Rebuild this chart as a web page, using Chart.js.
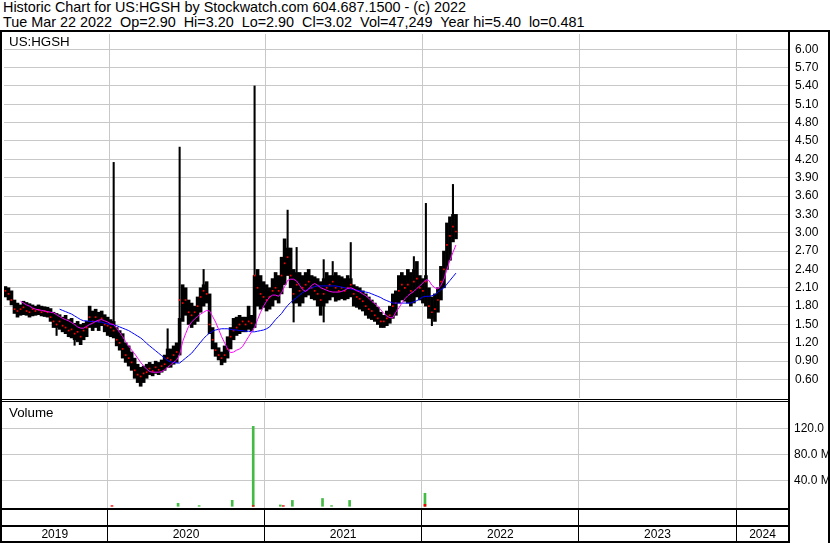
<!DOCTYPE html>
<html><head><meta charset="utf-8">
<script src="https://cdn.jsdelivr.net/npm/chart.js@4/dist/chart.umd.min.js"></script>
<style>
body{margin:0;background:#fff;width:830px;height:543px;overflow:hidden;position:relative;font-family:"Liberation Sans",Arial,sans-serif}
#t{position:absolute;left:3px;top:0;font-size:14.4px;line-height:15px;white-space:pre;color:#000}
canvas{position:absolute;left:0}
.lbl{position:absolute;font-size:13.33px;line-height:15px;color:#000}
</style></head>
<body>
<div id="t">Historic Chart for US:HGSH by Stockwatch.com 604.687.1500 - (c) 2022
Tue Mar 22 2022  Op=2.90  Hi=3.20  Lo=2.90  Cl=3.02  Vol=47,249  Year hi=5.40  lo=0.481</div>
<canvas id="pc" width="830" height="372" style="top:30px"></canvas>
<canvas id="vc" width="830" height="141" style="top:402px"></canvas>
<div class="lbl" style="left:9px;top:34px">US:HGSH</div>
<div class="lbl" style="left:9px;top:405px">Volume</div>
<script>
// ---- data (weekly, first week starting 2019-05-01) ----
const START = '2019-05-01';
const X_MIN = 2019.329, X_MAX = 2024.337;
const yearLines = [2020, 2021, 2022, 2023, 2024];
const yearNames = ['2019', '2020', '2021', '2022', '2023', '2024'];
const priceTicks = [0.60,0.90,1.20,1.50,1.80,2.10,2.40,2.70,3.00,3.30,3.60,3.90,4.20,4.50,4.80,5.10,5.40,5.70,6.00];
const volTicks = [40, 80, 120];

const high = [
2.12,2.10,2.05,1.90,1.85, 1.82,1.88,1.86,1.84,1.82, 1.80,1.82,1.80,1.79,1.78, 1.76,1.70,1.68,1.66,1.62,
1.65,1.58,1.60,1.52,1.55, 1.50,1.52,1.55,1.80,1.72, 1.75,1.70,1.72,1.66,1.62, 1.58,4.15,1.45,1.40,1.35,
1.20,1.15,1.05,0.95,0.85, 0.80,0.82,0.85,0.88,0.85, 0.90,0.88,0.92,1.00,1.43, 1.10,1.15,1.20,4.40,2.15,
2.10,1.90,1.85,1.80,1.95, 2.10,2.40,2.20,2.00,1.45, 1.20,1.12,1.05,1.15,1.30, 1.45,1.60,1.62,1.65,1.62,
1.62,1.80,1.65,5.40,2.40, 2.30,2.20,2.15,2.10,2.25, 2.35,2.30,2.60,2.90,3.37, 2.75,2.40,2.76,2.35,2.30,
2.35,2.40,2.30,2.28,2.25, 2.20,2.56,2.35,2.30,2.53, 2.35,2.30,2.28,2.25,2.30, 2.84,2.15,2.12,2.10,2.05,
2.00,1.95,1.90,1.85,1.78, 1.70,1.65,1.72,1.80,2.00, 2.05,2.30,2.35,2.30,2.40, 2.35,2.61,2.53,2.30,2.25,
3.48,2.10,1.95,2.00,2.10, 2.45,2.70,3.16,3.26,3.79, 3.30];
const low = [
1.95,1.90,1.82,1.68,1.62, 1.65,1.66,1.65,1.62,1.64, 1.65,1.66,1.64,1.63,1.62, 1.55,1.45,1.32,1.42,1.38,
1.35,1.30,1.28,1.16,1.22, 1.17,1.25,1.30,1.45,1.40, 1.45,1.40,1.48,1.38,1.32, 1.30,1.28,1.15,1.08,0.95,
0.88,0.82,0.75,0.62,0.55, 0.49,0.55,0.62,0.68,0.66, 0.70,0.68,0.72,0.75,0.80, 0.80,0.85,0.88,1.00,1.55,
1.65,1.50,1.45,1.50,1.55, 1.70,1.80,1.85,1.35,1.10, 0.98,0.92,0.84,0.88,0.95, 1.10,1.25,1.32,1.35,1.38,
1.38,1.42,1.40,1.45,1.80, 1.75,1.78,1.72,1.75,1.80, 1.90,1.85,2.00,2.15,2.30, 2.10,1.54,1.85,1.80,1.85,
1.95,1.98,1.92,1.90,1.80, 1.65,1.54,1.85,1.90,1.95, 1.88,1.90,1.92,1.90,1.92, 1.95,1.80,1.78,1.75,1.72,
1.65,1.60,1.58,1.55,1.50, 1.45,1.45,1.48,1.52,1.60, 1.65,1.85,1.90,1.88,1.85, 1.80,1.85,1.95,1.90,1.85,
1.80,1.60,1.48,1.55,1.70, 1.90,2.10,2.40,2.55,2.85, 2.90];
const close = [
2.05,2.00,1.90,1.75,1.72, 1.75,1.78,1.72,1.70,1.75, 1.72,1.74,1.70,1.72,1.70, 1.62,1.55,1.50,1.55,1.48,
1.45,1.40,1.42,1.35,1.38, 1.30,1.40,1.45,1.62,1.55, 1.62,1.55,1.60,1.50,1.48, 1.45,1.40,1.25,1.20,1.10,
1.00,0.95,0.88,0.75,0.68, 0.65,0.70,0.72,0.78,0.74, 0.80,0.76,0.82,0.85,0.95, 0.92,1.00,1.05,1.90,1.85,
1.90,1.70,1.65,1.70,1.80, 1.95,2.05,2.00,1.50,1.25, 1.08,1.00,0.95,1.00,1.10, 1.30,1.40,1.45,1.50,1.55,
1.50,1.55,1.52,2.30,2.10, 2.00,1.95,1.90,1.95,2.05, 2.10,2.05,2.30,2.50,2.60, 2.30,2.00,2.15,2.05,2.10,
2.15,2.20,2.10,2.05,2.00, 1.90,2.00,2.10,2.15,2.20, 2.10,2.05,2.10,2.05,2.10, 2.15,2.00,1.95,1.92,1.88,
1.80,1.75,1.72,1.65,1.60, 1.55,1.55,1.60,1.65,1.80, 1.85,2.05,2.15,2.10,2.15, 2.05,2.20,2.25,2.10,2.05,
2.20,1.80,1.70,1.75,1.90, 2.20,2.40,2.80,2.95,3.10, 3.02];
// weeks whose extreme came from a single-day spike, and where that week's normal range ended
const upSpikeWeek = [36, 54, 58, 66, 83, 94, 97, 106, 109, 115, 136, 140, 149];
const upSpikeFrom = [1.55, 1.10, 1.60, 2.15, 2.30, 2.75, 2.35, 2.25, 2.30, 2.25, 2.40, 2.30, 3.30];
const downSpikeWeek = [17, 23, 96, 106, 142];
const downSpikeFrom = [1.45, 1.25, 1.85, 1.80, 1.60];
const maShort = [
null,null,null,null,null, 1.88,1.85,1.82,1.80,1.77, 1.75,1.74,1.73,1.72,1.71, 1.70,1.69,1.66,1.63,1.60,
1.58,1.56,1.53,1.50,1.46, 1.44,1.44,1.47,1.50,1.52, 1.55,1.57,1.58,1.56,1.54, 1.51,1.50,1.44,1.37,1.30,
1.22,1.15,1.08,1.02,0.95, 0.88,0.82,0.77,0.73,0.72, 0.72,0.72,0.73,0.76,0.80, 0.84,0.88,0.92,1.00,1.22,
1.35,1.47,1.54,1.59,1.63, 1.67,1.70,1.73,1.72,1.63, 1.54,1.42,1.30,1.20,1.10, 1.04,1.05,1.08,1.10,1.14,
1.22,1.30,1.38,1.45,1.58, 1.70,1.80,1.88,1.95,1.98, 1.98,1.96,2.02,2.12,2.22, 2.24,2.24,2.21,2.14,2.07,
2.04,2.08,2.14,2.17,2.14, 2.10,2.08,2.06,2.04,2.03, 2.03,2.03,2.04,2.06,2.09, 2.10,2.08,2.05,2.03,2.00,
1.97,1.93,1.88,1.84,1.80, 1.74,1.68,1.64,1.61,1.61, 1.70,1.77,1.85,1.92,1.97, 2.01,2.04,2.09,2.13,2.18,
2.23,2.22,2.14,2.10,2.08, 2.14,2.24,2.40,2.55,2.68, 2.80];
const maLong = [
null,null,null,null,null, null,null,null,null,null, null,null,null,null,null, null,null,null,1.75,1.73,
1.71,1.69,1.67,1.64,1.61, 1.58,1.56,1.56,1.55,1.55, 1.55,1.54,1.54,1.52,1.51, 1.50,1.49,1.48,1.46,1.44,
1.42,1.40,1.37,1.34,1.31, 1.28,1.24,1.19,1.15,1.11, 1.07,1.03,0.99,0.95,0.91, 0.89,0.88,0.87,0.87,0.91,
0.95,0.99,1.03,1.09,1.15, 1.21,1.27,1.32,1.36,1.39, 1.41,1.42,1.43,1.43,1.43, 1.42,1.41,1.41,1.40,1.40,
1.39,1.39,1.38,1.38,1.39, 1.40,1.41,1.43,1.46,1.52, 1.58,1.63,1.68,1.75,1.81, 1.86,1.90,1.94,1.98,2.02,
2.05,2.08,2.10,2.12,2.13, 2.13,2.13,2.13,2.13,2.13, 2.13,2.12,2.11,2.10,2.09, 2.08,2.07,2.06,2.05,2.04,
2.03,2.02,2.00,1.98,1.96, 1.94,1.91,1.89,1.87,1.85, 1.85,1.85,1.85,1.85,1.85, 1.85,1.87,1.89,1.92,1.95,
1.96,1.96,1.97,1.99,2.03, 2.07,2.10,2.16,2.22,2.28, 2.34];
// volume (millions of shares), by week index
const volUpWeek = [58, 65, 76, 83, 92, 96, 106, 109, 115, 140];
const volUp     = [4.6, 1.0, 9.2, 123, 2.0, 9.0, 12, 1.0, 9.0, 20];
const volDownWeek = [36, 83, 93, 140];
const volDown     = [1.0, 1.0, 1.0, 3.0];

// ---- helpers ----
const FONT = "'Liberation Sans', Arial, sans-serif";
Chart.defaults.font.family = FONT;
function yearFrac(ms){const d=new Date(ms);const y=d.getUTCFullYear();const a=Date.UTC(y,0,1),b=Date.UTC(y+1,0,1);return y+(ms-a)/(b-a);}
const t0 = Date.parse(START + 'T00:00:00Z');
const weekX = high.map((_, i) => yearFrac(t0 + (7 * i + 3.5) * 86400000));
const bounds = [X_MIN, ...yearLines, X_MAX];
const mids = yearNames.map((_, k) => (bounds[k] + bounds[k + 1]) / 2);
function noPad(s){s.paddingTop=0;s.paddingBottom=0;s.paddingLeft=0;s.paddingRight=0;}
const GRID = '#c8c8c8';

const bodyTop = high.map((h, i) => { const k = upSpikeWeek.indexOf(i); return k >= 0 ? upSpikeFrom[k] : h; });
const bodyBot = low.map((l, i) => { const k = downSpikeWeek.indexOf(i); return k >= 0 ? downSpikeFrom[k] : l; });
const spikeData = [
  ...upSpikeWeek.map((w, k) => ({ x: weekX[w], y: [upSpikeFrom[k], high[w]] })),
  ...downSpikeWeek.map((w, k) => ({ x: weekX[w], y: [low[w], downSpikeFrom[k]] }))
];

// ---- price chart ----
new Chart(document.getElementById('pc'), {
  type: 'bar',
  data: { datasets: [
    { type:'line', label:'short', data: weekX.map((x,i)=>({x, y: maShort[i]})), borderColor:'#ff00ff', borderWidth:1, pointRadius:0, tension:0, spanGaps:false, order:1 },
    { type:'line', label:'long', data: weekX.map((x,i)=>({x, y: maLong[i]})), borderColor:'#0000ff', borderWidth:1, pointRadius:0, tension:0, spanGaps:false, order:2 },
    { type:'scatter', label:'close', data: weekX.map((x,i)=>({x, y: close[i]})), pointStyle:'rect', pointRadius:1.2, backgroundColor:'#ff0000', borderWidth:0, order:3 },
    { type:'bar', label:'range', data: weekX.map((x,i)=>({x, y:[bodyBot[i], bodyTop[i]]})), backgroundColor:'#000', barPercentage:1, categoryPercentage:1, grouped:false, order:10 },
    { type:'bar', label:'spike', data: spikeData, backgroundColor:'#000', barThickness:1.4, grouped:false, order:9 }
  ]},
  options: {
    responsive:false, animation:false, devicePixelRatio:1,
    layout:{ padding:{ left:2, top:2, right:0, bottom:2 } },
    plugins:{ legend:{display:false}, tooltip:{enabled:false} },
    scales:{
      x:{ type:'linear', min:X_MIN, max:X_MAX, offset:false,
          grid:{ color:GRID, drawTicks:false, offset:false, lineWidth:1 }, border:{display:false},
          ticks:{ display:false },
          afterBuildTicks:s=>{ s.ticks = yearLines.map(v=>({value:v})); },
          afterFit:s=>{ s.height = 0; noPad(s); } },
      y:{ position:'right', min:0.298, max:6.249,
          grid:{ color:GRID, drawTicks:false, lineWidth:1 }, border:{ color:'#000', width:2 },
          ticks:{ color:'#000', font:{ size:12, family:FONT }, padding:6, callback:v=>Number(v).toFixed(2) },
          afterBuildTicks:s=>{ s.ticks = priceTicks.map(v=>({value:v})); },
          afterFit:s=>{ s.width = 41; noPad(s); } }
    }
  },
  plugins:[{ id:'frameP', afterDraw(c){ const g=c.ctx, W=c.width, H=c.height, r=Math.round(c.chartArea.right);
    g.save(); g.fillStyle='#000';
    g.fillRect(0,0,W,2); g.fillRect(0,0,2,H); g.fillRect(W-2,0,2,H); g.fillRect(r-1,0,2,H);
    g.fillRect(0,H-3,r,1); g.fillRect(0,H-1,r,1);
    g.restore(); } }]
});

// ---- volume chart ----
const xTicks = [...yearLines.map(v=>({value:v, b:true})), ...mids.map((v,k)=>({value:v, name:yearNames[k]}))].sort((a,b)=>a.value-b.value);
new Chart(document.getElementById('vc'), {
  type: 'bar',
  data: { datasets: [
    { label:'down', data: volDownWeek.map((w,k)=>({x: weekX[w], y: volDown[k]})), backgroundColor:'#ee0000', barThickness:2, grouped:false, order:1 },
    { label:'up', data: volUpWeek.map((w,k)=>({x: weekX[w], y: volUp[k]})), backgroundColor:'#44bb44', barThickness:2, grouped:false, order:2 }
  ]},
  options: {
    responsive:false, animation:false, devicePixelRatio:1,
    layout:{ padding:{ left:2, top:0, right:0, bottom:0 } },
    plugins:{ legend:{display:false}, tooltip:{enabled:false} },
    scales:{
      x:{ type:'linear', min:X_MIN, max:X_MAX, offset:false,
          grid:{ offset:false, lineWidth:1, tickLength:34, drawTicks:true,
                 color:ctx=> (ctx.tick && ctx.tick.b) ? GRID : 'rgba(0,0,0,0)',
                 tickColor:ctx=> (ctx.tick && ctx.tick.b) ? '#000' : 'rgba(0,0,0,0)' },
          border:{ display:true, color:'#000', width:2 },
          ticks:{ autoSkip:false, maxRotation:0, minRotation:0, color:'#000', font:{ size:12, family:FONT }, padding:-16,
                  callback:(v,i,t)=> (t[i] && t[i].name) ? t[i].name : '' },
          afterBuildTicks:s=>{ s.ticks = xTicks.map(t=>Object.assign({}, t)); },
          afterFit:s=>{ s.height = 34; noPad(s); } },
      y:{ position:'right', min:-4.2, max:160.5,
          grid:{ color:GRID, drawTicks:false, lineWidth:1 }, border:{ color:'#000', width:2 },
          ticks:{ color:'#000', font:{ size:12, family:FONT }, padding:5, callback:v=>Number(v).toFixed(1)+' M' },
          afterBuildTicks:s=>{ s.ticks = volTicks.map(v=>({value:v})); },
          afterFit:s=>{ s.width = 41; noPad(s); } }
    }
  },
  plugins:[{ id:'frameV', afterDraw(c){ const g=c.ctx, W=c.width, H=c.height, r=Math.round(c.chartArea.right);
    g.save(); g.fillStyle='#000';
    g.fillRect(0,0,2,H); g.fillRect(W-2,0,2,H); g.fillRect(r-1,0,2,H);
    g.fillRect(0,123,r,2); g.fillRect(0,139,r,2);
    g.restore(); } }]
});
</script>
</body></html>
